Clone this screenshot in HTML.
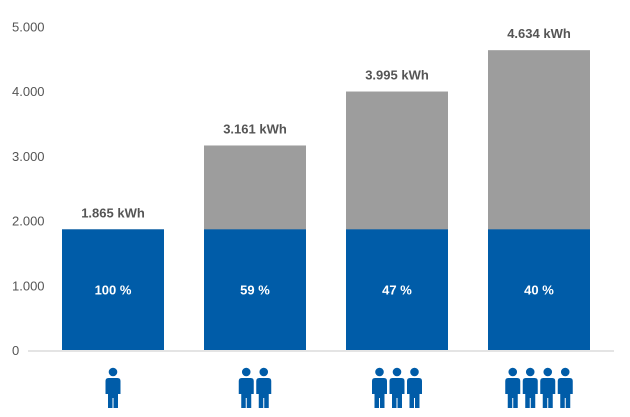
<!DOCTYPE html>
<html><head><meta charset="utf-8"><style>
body{margin:0;background:#fff;width:630px;height:412px;overflow:hidden;font-family:"Liberation Sans",sans-serif}
</style></head><body>
<svg id="c" width="630" height="412"></svg>
<script>
const categories=["1 person","2 persons","3 persons","4 persons"];
const totals=[1865,3161,3995,4634];
const baseValues=[1865,1865,1865,1865];
const totalLabels=["1.865 kWh","3.161 kWh","3.995 kWh","4.634 kWh"];
const shareLabels=["100 %","59 %","47 %","40 %"];
const persons=[1,2,3,4];
const ticks=[0,1000,2000,3000,4000,5000];
const tickLabels=["0","1.000","2.000","3.000","4.000","5.000"];

const NS="http://www.w3.org/2000/svg";
const svg=document.getElementById('c');
const y=v=>350-v*0.0647;
const x=i=>62+i*142;
const bw=102;
function mk(t,a,p){const e=document.createElementNS(NS,t);for(const k in a)e.setAttribute(k,a[k]);(p||svg).appendChild(e);return e;}

ticks.forEach((t,i)=>{
  const tx=mk('text',{x:12,y:y(t)+5,'font-size':13,fill:'#555'});
  tx.textContent=tickLabels[i];
  
  
});
const ax=mk('line',{x1:28,x2:614,y1:351,y2:351,stroke:'#c8c8c8','stroke-width':1});



categories.forEach((c,i)=>{
  const g=mk('rect',{x:x(i),y:y(totals[i]),width:bw,height:y(0)-y(totals[i]),fill:'#9d9d9d'});
  
  
  const b=mk('rect',{x:x(i),y:y(baseValues[i]),width:bw,height:y(0)-y(baseValues[i]),fill:'#005ca8'});
  
  
  const tl=mk('text',{x:x(i)+bw/2,y:y(totals[i])-12,'text-anchor':'middle','font-size':13,'font-weight':'bold',fill:'#555'});
  tl.textContent=totalLabels[i];
  
  
  const sl=mk('text',{x:x(i)+bw/2,y:(y(baseValues[i])+y(0))/2+5,'text-anchor':'middle','font-size':13,'font-weight':'bold',fill:'#fff'});
  sl.textContent=shareLabels[i];
  
  
  const n=persons[i];
  const cx=x(i)+bw/2;
  const gi=mk('g',{});
  
  
  for(let k=0;k<n;k++){
    const px=cx+(k-(n-1)/2)*17.5;
    mk('circle',{cx:px,cy:372,r:4.3,fill:'#005ca8'},gi);
    mk('path',{d:`M${px-7.5} ${381} q0 -3 3 -3 h9 q3 0 3 3 v13 h-2.5 v14 h-4.5 v-10 h-1 v10 h-4.5 v-14 h-2.5 z`,fill:'#005ca8'},gi);
  }
});
</script>
</body></html>
